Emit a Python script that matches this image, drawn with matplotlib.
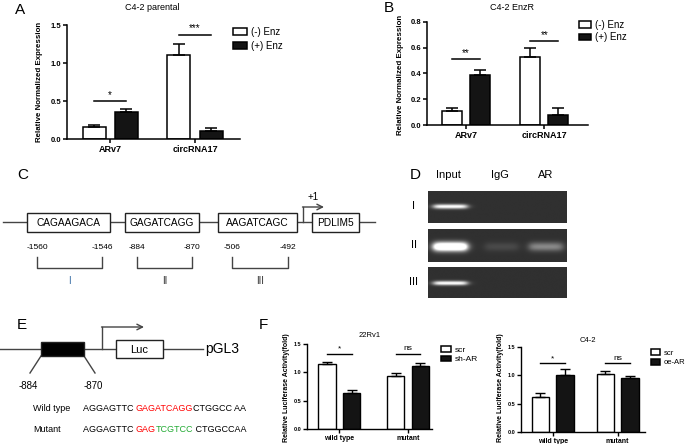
import numpy as np
import matplotlib
matplotlib.use("Agg")
import matplotlib.pyplot as plt
from matplotlib.patches import Rectangle, Patch
from matplotlib.ticker import FormatStrFormatter

W, H = 685, 444
plt.rcParams['font.family'] = ['Liberation Sans', 'DejaVu Sans']

# ---- data ----
ab_groups = ['ARv7', 'circRNA17']
ab_legend = ['(-) Enz', '(+) Enz']

a_minus = [0.16, 1.10]
a_minus_err = [0.02, 0.15]
a_plus = [0.35, 0.10]
a_plus_err = [0.04, 0.05]
a_sig = ['*', '***']
a_sig_y = [0.50, 1.37]

b_minus = [0.11, 0.53]
b_minus_err = [0.02, 0.07]
b_plus = [0.39, 0.08]
b_plus_err = [0.04, 0.05]
b_sig = ['**', '**']
b_sig_y = [0.51, 0.65]

f_groups = ['wild type', 'mutant']
f1_scr = [1.15, 0.94]
f1_scr_err = [0.04, 0.05]
f1_sh = [0.63, 1.11]
f1_sh_err = [0.05, 0.06]
f1_sig = ['*', 'ns']
f1_sig_y = [1.33, 1.33]

f2_scr = [0.61, 1.02]
f2_scr_err = [0.07, 0.06]
f2_oe = [1.00, 0.95]
f2_oe_err = [0.11, 0.04]
f2_sig = ['*', 'ns']
f2_sig_y = [1.21, 1.21]

c_motifs = ['CAGAAGACA', 'GAGATCAGG', 'AAGATCAGC']
c_start = ['-1560', '-884', '-506']
c_end = ['-1546', '-870', '-492']
c_sites = ['I', 'II', 'III']

gel_lanes = ['Input', 'IgG', 'AR']
gel_rows = ['I', 'II', 'III']
gel_band = [[0.85, 0.0, 0.0],
            [1.30, 0.10, 0.35],
            [0.85, 0.0, 0.0]]
gel_thick = [1.0, 1.9, 1.0]

wt_seq = [('AGGAGTTC ', 'black'), ('GAGATCAGG', 'red'), ('CTGGCC AA', 'black')]
mut_seq = [('AGGAGTTC ', 'black'), ('GAG', 'red'), ('TCGTCC', '#22aa33'), (' CTGGCCAA', 'black')]

fig = plt.figure(figsize=(W / 100, H / 100), dpi=100)

# overlay in pixel coords for the diagrams and labels
ov = fig.add_axes([0, 0, 1, 1])
ov.set_xlim(0, W)
ov.set_ylim(H, 0)
ov.axis('off')


def px_axes(x0, y0, x1, y1):
    return fig.add_axes([x0 / W, 1 - y1 / H, (x1 - x0) / W, (y1 - y0) / H])


def bar_panel(rect, groups, v1, e1, v2, e2, sig, sig_y, ylim, yticks, xlim,
              off, width, ytick_fs, xtick_fs, cap, sig_fs, lw=1.1):
    ax = px_axes(*rect)
    x = np.arange(1, len(groups) + 1)
    for xs, v, e, fc in [(x - off, v1, e1, 'white'), (x + off, v2, e2, '#141414')]:
        ax.bar(xs, v, width, color=fc, edgecolor='black', linewidth=lw, zorder=2)
        ax.errorbar(xs, v, yerr=[np.zeros(len(v)), e], fmt='none', ecolor='black',
                    elinewidth=lw, capsize=cap, capthick=lw, zorder=3)
    for xi, s, yy in zip(x, sig, sig_y):
        ax.plot([xi - off, xi + off], [yy, yy], color='black', lw=lw, clip_on=False)
        ax.annotate(s, (xi, yy), xytext=(0, 1), textcoords='offset points',
                    ha='center', va='bottom', fontsize=sig_fs, annotation_clip=False)
    ax.set_xlim(*xlim)
    ax.set_ylim(*ylim)
    ax.set_yticks(yticks)
    ax.yaxis.set_major_formatter(FormatStrFormatter('%.1f'))
    ax.set_xticks(x)
    ax.set_xticklabels(groups, fontweight='bold', fontsize=xtick_fs)
    for lab in ax.get_yticklabels():
        lab.set_fontweight('bold')
        lab.set_fontsize(ytick_fs)
    for s in ['top', 'right']:
        ax.spines[s].set_visible(False)
    for s in ['left', 'bottom']:
        ax.spines[s].set_linewidth(lw)
    ax.tick_params(length=3, width=lw, pad=1)
    ax.patch.set_alpha(0)
    return ax


def legend(labels, x, y_top, fs, row_px, hl_px, hh_px):
    fs_px = fs * 100 / 72
    handles = [Patch(facecolor='white', edgecolor='black', lw=1.1),
               Patch(facecolor='#141414', edgecolor='black', lw=1.1)]
    fig.legend(handles, labels, loc='upper left', bbox_to_anchor=(x / W, 1 - y_top / H),
               frameon=False, fontsize=fs, borderpad=0, borderaxespad=0,
               handlelength=hl_px / fs_px, handleheight=hh_px / fs_px,
               labelspacing=(row_px - fs_px) / fs_px, handletextpad=0.45)


def box(x0, y0, w, h, fc):
    ov.add_patch(Rectangle((x0, y0), w, h, facecolor=fc, edgecolor='#222222', lw=1, zorder=3))


# ---- A ----
ov.text(20, 10, 'A', fontsize=11, ha='center', va='center')
bar_panel((67, 25, 240, 139), ab_groups, a_minus, a_minus_err, a_plus, a_plus_err,
          a_sig, a_sig_y, (0, 1.5), [0, 0.5, 1.0, 1.5], (0.49, 2.53), 0.19, 0.27,
          5.5, 6.5, 4.5, 7)
ov.text(152, 8, 'C4-2 parental', fontsize=6.5, ha='center', va='center')
ov.text(40, 82, 'Relative Normalized Expression', fontsize=5.7, fontweight='bold',
        rotation=90, ha='center', va='center')
legend(ab_legend, 233, 27, 7, 14, 14, 7)

# ---- B ----
ov.text(389, 8, 'B', fontsize=11, ha='center', va='center')
bar_panel((427, 22, 588, 125), ab_groups, b_minus, b_minus_err, b_plus, b_plus_err,
          b_sig, b_sig_y, (0, 0.8), [0, 0.2, 0.4, 0.6, 0.8], (0.5, 2.56), 0.18, 0.26,
          5.5, 6.5, 4.5, 7)
ov.text(512, 7, 'C4-2 EnzR', fontsize=6.5, ha='center', va='center')
ov.text(401, 75, 'Relative Normalized Expression', fontsize=5.7, fontweight='bold',
        rotation=90, ha='center', va='center')
legend(ab_legend, 579, 20, 7, 12, 12, 6)

# ---- C ----
ov.text(23, 175, 'C', fontsize=11, ha='center', va='center')
ov.plot([3, 375], [222, 222], color='#444444', lw=1, zorder=2)
c_boxes = [(27, 110), (125, 199), (218, 297)]
c_brk = [(37, 102), (137, 192), (232, 288)]
for (x0, x1), motif, s0, s1, (b0, b1), site, col in zip(
        c_boxes, c_motifs, c_start, c_end, c_brk, c_sites, ['#3a6ea5', '#333333', '#333333']):
    box(x0, 213, x1 - x0, 19, 'white')
    ov.text((x0 + x1) / 2, 222.5, motif, fontsize=7.3, ha='center', va='center', zorder=4)
    ov.text(b0, 247, s0, fontsize=6, ha='center', va='center')
    ov.text(b1, 247, s1, fontsize=6, ha='center', va='center')
    ov.plot([b0, b0, b1, b1], [257, 268, 268, 257], color='#444444', lw=1)
    ov.text((b0 + b1) / 2, 281, site, fontsize=7, ha='center', va='center', color=col)
box(312, 213, 47, 19, 'white')
ov.text(335.5, 222.5, 'PDLIM5', fontsize=7.3, ha='center', va='center', zorder=4)
ov.plot([303, 303], [222, 207], color='#444444', lw=1)
ov.annotate('', xy=(324, 207), xytext=(302.5, 207),
            arrowprops=dict(arrowstyle='->', lw=1, color='#444444', shrinkA=0, shrinkB=0))
ov.text(313, 197, '+1', fontsize=7, ha='center', va='center')

# ---- D ----
ov.text(415, 175, 'D', fontsize=11, ha='center', va='center')
gel_x = (428, 567)
gel_y = [(191, 223), (229, 262), (267, 298)]
gel_yc = [0.5, 0.55, 0.52]
lane_c = [0.16, 0.53, 0.85]
for lab, xc in zip(gel_lanes, [448, 500, 546]):
    ov.text(xc, 175, lab, fontsize=8, ha='center', va='center')
for r, (y0, y1) in enumerate(gel_y):
    ax = px_axes(gel_x[0], y0, gel_x[1], y1)
    ny, nx = 64, 280
    yy = np.linspace(0, 1, ny)[:, None]
    xx = np.linspace(0, 1, nx)[None, :]
    img = np.full((ny, nx), 0.19)
    for c, a in zip(lane_c, gel_band[r]):
        px = 1 / (1 + np.exp(-(xx - (c - 0.12)) / 0.015)) / (1 + np.exp((xx - (c + 0.12)) / 0.015))
        py = np.exp(-((yy - gel_yc[r]) / (0.07 * gel_thick[r])) ** 2)
        img = img + a * px * py
    ax.imshow(np.clip(img, 0, 1), cmap='gray', vmin=0, vmax=1, aspect='auto',
              extent=(0, 1, 1, 0), interpolation='bilinear')
    ax.axis('off')
    ov.text(414, (y0 + y1) / 2 - 1, gel_rows[r], fontsize=8, ha='center', va='center')

# ---- E ----
ov.text(22, 325, 'E', fontsize=11, ha='center', va='center')
ov.plot([0, 203], [349, 349], color='#444444', lw=1, zorder=2)
box(41, 342, 43, 14, 'black')
box(116, 340, 47, 18, 'white')
ov.text(139.5, 349.5, 'Luc', fontsize=8, ha='center', va='center', zorder=4)
ov.text(205, 349, 'pGL3', fontsize=10, ha='left', va='center')
ov.plot([102, 102], [349, 327], color='#444444', lw=1)
ov.annotate('', xy=(144, 327), xytext=(101.5, 327),
            arrowprops=dict(arrowstyle='->', lw=1, color='#444444', shrinkA=0, shrinkB=0))
ov.plot([41, 30], [356, 373], color='#444444', lw=1)
ov.plot([84, 95], [356, 373], color='#444444', lw=1)
ov.text(28, 386, '-884', fontsize=7, ha='center', va='center')
ov.text(93, 386, '-870', fontsize=7, ha='center', va='center')

renderer = fig.canvas.get_renderer()


def text_w(s, fs):
    t = ov.text(0, 0, s + 'A', fontsize=fs)
    w1 = t.get_window_extent(renderer).width
    t.set_text('A')
    w2 = t.get_window_extent(renderer).width
    t.remove()
    return w1 - w2


seq_fs = 6.5
for lab, pieces, y in [('Wild type', wt_seq, 408), ('Mutant', mut_seq, 429)]:
    ov.text(33, y, lab, fontsize=seq_fs, ha='left', va='center')
    x = 83
    for s, col in pieces:
        ov.text(x, y, s, fontsize=seq_fs, color=col, ha='left', va='center')
        x += text_w(s, seq_fs)

# ---- F ----
ov.text(263, 325, 'F', fontsize=11, ha='center', va='center')
bar_panel((307, 344, 432, 429), f_groups, f1_scr, f1_scr_err, f1_sh, f1_sh_err,
          f1_sig, f1_sig_y, (0, 1.5), [0, 0.5, 1.0, 1.5], (0.53, 2.35), 0.18, 0.25,
          4, 5, 3.5, 6, lw=1.0)
ov.text(370, 335, '22Rv1', fontsize=5.5, ha='center', va='center')
ov.text(287, 388, 'Relative Luciferase Activity(fold)', fontsize=5, fontweight='bold',
        rotation=90, ha='center', va='center')
legend(['scr', 'sh-AR'], 441, 346, 6, 10, 10, 6)

bar_panel((521, 347, 645, 432), f_groups, f2_scr, f2_scr_err, f2_oe, f2_oe_err,
          f2_sig, f2_sig_y, (0, 1.5), [0, 0.5, 1.0, 1.5], (0.51, 2.42), 0.19, 0.27,
          4, 5, 3.5, 6, lw=1.0)
ov.text(588, 340, 'C4-2', fontsize=5.5, ha='center', va='center')
ov.text(501, 388, 'Relative Luciferase Activity(fold)', fontsize=5, fontweight='bold',
        rotation=90, ha='center', va='center')
legend(['scr', 'oe-AR'], 651, 349, 5.5, 10, 9, 6)

fig.savefig('out.png', dpi=100)
